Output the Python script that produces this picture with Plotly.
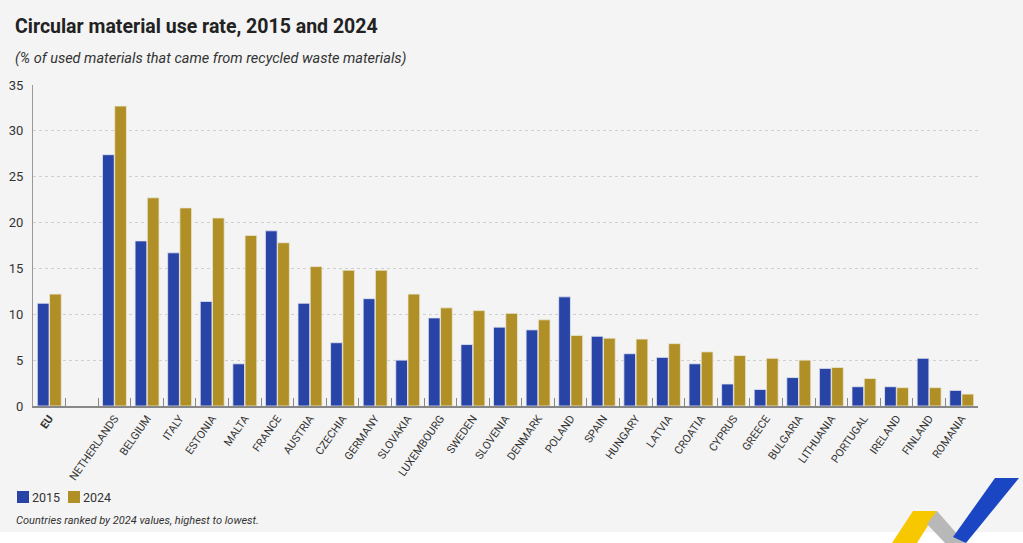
import plotly.graph_objects as go

countries = ["EU", " ", "NETHERLANDS", "BELGIUM", "ITALY", "ESTONIA", "MALTA", "FRANCE",
             "AUSTRIA", "CZECHIA", "GERMANY", "SLOVAKIA", "LUXEMBOURG", "SWEDEN",
             "SLOVENIA", "DENMARK", "POLAND", "SPAIN", "HUNGARY", "LATVIA", "CROATIA",
             "CYPRUS", "GREECE", "BULGARIA", "LITHUANIA", "PORTUGAL", "IRELAND",
             "FINLAND", "ROMANIA"]
v2015 = [11.2, None, 27.4, 18.0, 16.7, 11.4, 4.6, 19.1, 11.2, 6.9, 11.7, 5.0, 9.6, 6.7,
         8.6, 8.3, 11.9, 7.6, 5.7, 5.3, 4.6, 2.4, 1.8, 3.1, 4.1, 2.1, 2.1, 5.2, 1.7]
v2024 = [12.2, None, 32.7, 22.7, 21.6, 20.5, 18.6, 17.8, 15.2, 14.8, 14.8, 12.2, 10.7, 10.4,
         10.1, 9.4, 7.7, 7.4, 7.3, 6.8, 5.9, 5.5, 5.2, 5.0, 4.2, 3.0, 2.0, 2.0, 1.3]
series_names = ["2015", "2024"]
tick_vals = [0, 5, 10, 15, 20, 25, 30, 35]
tick_labels = [c if c != "EU" else "<b>EU</b>" for c in countries]

BLUE = "#2744a6"
GOLD = "#b08f26"
BG = "#f4f4f4"
FONT = "Roboto, sans-serif"

fig = go.Figure()
fig.add_trace(go.Bar(x=countries, y=v2015, name=series_names[0], showlegend=False,
                     marker=dict(color=BLUE, line=dict(color="#e4e6f0", width=0.8))))
fig.add_trace(go.Bar(x=countries, y=v2024, name=series_names[1], showlegend=False,
                     marker=dict(color=GOLD, line=dict(color="#ece8da", width=0.8))))

W, H = 1023, 543
L, R, T, B = 33, 45, 85, 137
pw, ph = W - L - R, H - T - B

def px(X):
    return (X - L) / pw

def py(Y):
    return (H - B - Y) / ph

fig.update_layout(
    width=W, height=H,
    margin=dict(l=L, r=R, t=T, b=B, autoexpand=False),
    paper_bgcolor=BG, plot_bgcolor=BG,
    barmode="group", bargap=0.25, bargroupgap=0.04,
    font=dict(family=FONT, color="#333333", size=12),
    showlegend=False,
    xaxis=dict(type="category", categoryorder="array", categoryarray=countries,
               tickvals=countries, ticktext=tick_labels, automargin=False,
               tickangle=-55, tickson="boundaries", ticks="inside", ticklen=8,
               tickcolor="#888888", tickwidth=1,
               showline=True, linecolor="#888888", linewidth=1.5,
               showgrid=False, tickfont=dict(size=11, color="#333333", family=FONT),
               range=[-0.5, len(countries) - 0.5]),
    yaxis=dict(range=[0, 35], tickvals=tick_vals, ticktext=[str(v) for v in tick_vals],
               showline=True, linecolor="#999999", linewidth=1, automargin=False,
               showgrid=True, gridcolor="#d0d0d0", griddash="dot", gridwidth=1,
               zeroline=False, ticks="", ticklabelstandoff=6,
               tickfont=dict(size=13, color="#333333", family=FONT)),
)

fig.add_annotation(text="<b>Circular material use rate, 2015 and 2024</b>",
                   xref="paper", yref="paper", x=px(13), y=py(26), xanchor="left", yanchor="middle",
                   showarrow=False, font=dict(size=19.5, color="#222222", family=FONT))
fig.add_annotation(text="<i>(% of used materials that came from recycled waste materials)</i>",
                   xref="paper", yref="paper", x=px(13), y=py(58), xanchor="left", yanchor="middle",
                   showarrow=False, font=dict(size=14.5, color="#333333", family=FONT))
fig.add_annotation(text="<i>Countries ranked by 2024 values, highest to lowest.</i>",
                   xref="paper", yref="paper", x=px(14), y=py(520), xanchor="left", yanchor="middle",
                   showarrow=False, font=dict(size=11, color="#333333", family=FONT))

# legend (manual, to match the compact reference layout)
for i, (nm, col) in enumerate(zip(series_names, [BLUE, GOLD])):
    x0 = 17 + i * 51
    fig.add_shape(type="rect", xref="paper", yref="paper", x0=px(x0), x1=px(x0 + 12),
                  y0=py(503), y1=py(491), fillcolor=col, line=dict(width=0))
    fig.add_annotation(text=nm, xref="paper", yref="paper", x=px(x0 + 13), y=py(497),
                       xanchor="left", yanchor="middle", showarrow=False,
                       font=dict(size=12.5, color="#333333", family=FONT))

# white strip at the bottom
fig.add_shape(type="rect", xref="paper", yref="paper", x0=px(0), x1=px(W), y0=py(532), y1=py(H),
              fillcolor="white", line=dict(width=0), layer="above")

def poly(points):
    return "M " + " L ".join(f"{px(x):.5f},{py(y):.5f}" for x, y in points) + " Z"

fig.add_shape(type="path", xref="paper", yref="paper",
              path=poly([(913, 511), (937, 511), (917, 543), (892, 543)]),
              fillcolor="#f7c800", line=dict(width=0), layer="above")
fig.add_shape(type="path", xref="paper", yref="paper",
              path=poly([(937, 511), (965, 543), (945, 543), (927, 524)]),
              fillcolor="#b8b8b8", line=dict(width=0), layer="above")
fig.add_shape(type="path", xref="paper", yref="paper",
              path=poly([(995, 478), (1019, 478), (966, 543), (953, 537)]),
              fillcolor="#1a46c4", line=dict(width=0), layer="above")

fig.write_html("out.html", config={"displayModeBar": False},
               post_script="document.body.style.margin='0px';")
